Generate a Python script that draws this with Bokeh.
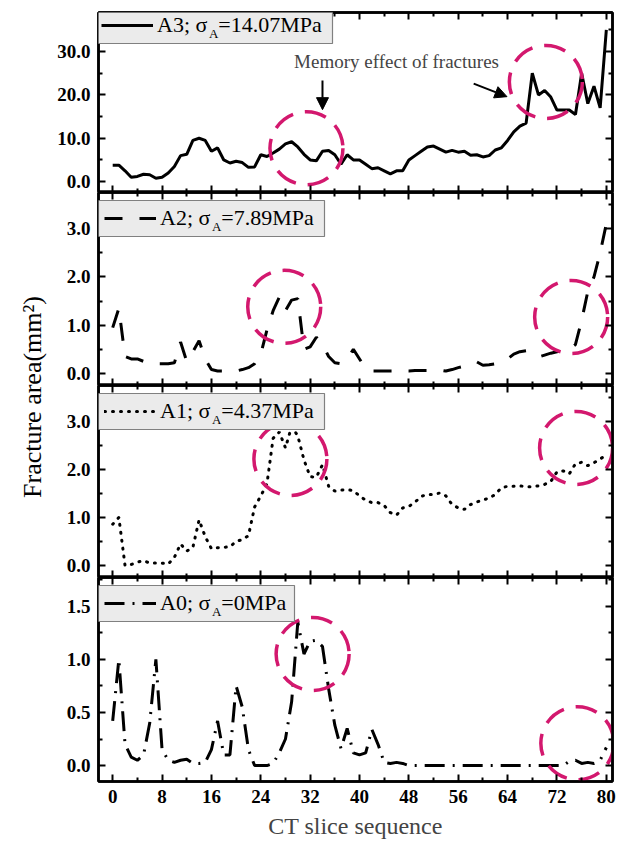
from bokeh.plotting import figure
from bokeh.layouts import column, row
from bokeh.models import (Range1d, LinearAxis, FixedTicker, PrintfTickFormatter,
                          Legend, LegendItem, Label, Arrow, NormalHead, BoxAnnotation)
from bokeh.embed import file_html
from bokeh.resources import INLINE

# ---------------- data ----------------
slices = list(range(81))

a3 = [3.8, 3.8, 2.5, 1.0, 1.2, 1.7, 1.6, 0.8, 1.0, 2.0,
      3.5, 6.0, 6.3, 9.5, 10.0, 9.5, 7.0, 7.8, 5.0, 4.3,
      4.7, 4.4, 3.3, 3.4, 6.2, 5.8, 6.6, 7.5, 8.7, 9.2,
      8.0, 6.3, 5.0, 4.8, 7.0, 7.2, 6.2, 4.0, 6.2, 5.0,
      5.0, 4.0, 3.0, 3.2, 2.5, 1.8, 2.5, 2.5, 5.0, 6.0,
      7.0, 8.0, 8.2, 7.5, 6.8, 7.2, 6.8, 7.0, 6.1, 6.2,
      5.7, 6.0, 7.3, 7.8, 9.5, 11.5, 12.8, 13.5, 25.0, 20.0,
      21.0, 19.5, 16.5, 16.5, 16.5, 15.5, 25.0, 18.0, 22.0, 17.0,
      35.0]

a2 = [0.95, 1.35, 0.35, 0.30, 0.30, 0.25, 0.20, 0.20, 0.20, 0.20,
      0.22, 0.65, 0.25, 0.45, 0.68, 0.30, 0.08, 0.05, 0.05, 0.05,
      0.05, 0.08, 0.12, 0.20, 0.40, 0.90, 1.30, 1.58, 1.30, 1.52,
      1.55, 0.50, 0.55, 0.75, 0.60, 0.35, 0.22, 0.20, 0.30, 0.50,
      0.30, 0.10, 0.05, 0.05, 0.05, 0.05, 0.05, 0.05, 0.05, 0.06,
      0.06, 0.06, 0.06, 0.07, 0.05, 0.08, 0.12, 0.15, 0.20, 0.24,
      0.17, 0.18, 0.20, 0.25, 0.30, 0.40, 0.45, 0.47, 0.40, 0.34,
      0.38, 0.42, 0.45, 0.48, 0.50, 0.60, 1.10, 1.70, 2.00, 2.50,
      3.10]

a1 = [0.86, 1.00, 0.00, 0.02, 0.07, 0.10, 0.05, 0.05, 0.05, 0.03,
      0.17, 0.45, 0.30, 0.38, 0.95, 0.60, 0.35, 0.37, 0.38, 0.39,
      0.50, 0.54, 0.62, 1.22, 1.45, 1.70, 2.65, 2.78, 2.45, 2.90,
      2.70, 2.20, 1.85, 1.84, 2.10, 1.65, 1.55, 1.57, 1.58, 1.56,
      1.45, 1.36, 1.31, 1.31, 1.25, 1.10, 1.05, 1.20, 1.23, 1.32,
      1.44, 1.48, 1.48, 1.51, 1.45, 1.27, 1.20, 1.17, 1.27, 1.32,
      1.37, 1.40, 1.48, 1.62, 1.65, 1.65, 1.66, 1.64, 1.64, 1.66,
      1.69, 1.75, 1.95, 1.97, 1.91, 2.12, 2.15, 2.08, 2.14, 2.22,
      2.30]

a0 = [0.42, 1.00, 0.20, 0.08, 0.05, 0.10, 0.40, 1.00, 0.15, 0.05,
      0.03, 0.05, 0.06, 0.02, 0.02, 0.03, 0.15, 0.42, 0.10, 0.10,
      0.75, 0.55, 0.15, 0.00, 0.00, 0.00, 0.02, 0.12, 0.25, 0.60,
      1.35, 1.05, 1.17, 1.18, 1.12, 0.72, 0.38, 0.16, 0.35, 0.12,
      0.10, 0.12, 0.34, 0.20, 0.03, 0.02, 0.03, 0.02, 0.00, 0.00,
      0.00, 0.00, 0.00, 0.00, 0.00, 0.00, 0.00, 0.00, 0.00, 0.00,
      0.00, 0.00, 0.00, 0.00, 0.00, 0.00, 0.00, 0.00, 0.00, 0.00,
      0.00, 0.00, 0.00, 0.00, 0.04, 0.05, 0.02, 0.03, 0.02, 0.05,
      0.17]

series_names = ["A3", "A2", "A1", "A0"]
stress_labels = ["14.07MPa", "7.89MPa", "4.37MPa", "0MPa"]
series_values = [a3, a2, a1, a0]
series_dash = ["solid", "18 17", "1 7", "20 8 2 8"]

x_ticks = [0, 8, 16, 24, 32, 40, 48, 56, 64, 72, 80]
x_minor = [4, 12, 20, 28, 36, 44, 52, 60, 68, 76]
y_ticks = [[0, 10, 20, 30], [0, 1, 2, 3], [0, 1, 2, 3], [0, 0.5, 1.0, 1.5]]
y_minor = [[5, 15, 25, 35], [0.5, 1.5, 2.5, 3.5], [0.5, 1.5, 2.5, 3.5], [0.25, 0.75, 1.25, 1.75]]
y_ranges = [(-2.5, 39.0), (-0.25, 3.75), (-0.25, 3.75), (-0.15, 1.77)]

# highlighted "memory effect" regions (circle centres in data units)
circle_x = [[31.4, 70.2], [27.8, 74.3], [28.8, 75.1], [32.4, 75.3]]
circle_y = [[7.7, 23.0], [1.38, 1.17], [2.22, 2.45], [1.05, 0.21]]

note_text = "Memory effect of fractures"
note_pos = (46.0, 27.6)
arrow_coords = [(34.0, 23.3, 34.0, 16.6), (58.5, 22.6, 63.9, 19.6)]

x_title = "CT slice sequence"
y_title = "Fracture area(mm\u00b2)"

# ---------------- layout ----------------
SERIF = "Liberation Serif"
MAGENTA = "#d3186e"
YLAB_W = 48
FIG_W = 584
LEFT_B = 50
RIGHT_B = 20
frame_h = [180, 193, 192, 204]
top_b = [12, 0, 0, 0]
bot_b = [0, 0, 0, 64]
legend_top_gap = [-5, 8, 8, 8]
legend_x = [-3, 0, 0, 0]
legend_w = [237, 226, 226, 196]
LEG_H = 36
PAD = 6
X0, X1 = -2.3, 81.0
FRAME_W = FIG_W - LEFT_B - RIGHT_B

xr = Range1d(X0, X1)


def style_axis(ax, show_labels):
    ax.axis_line_width = 2.5
    ax.axis_line_color = "black"
    ax.major_tick_in = 7
    ax.major_tick_out = 0
    ax.minor_tick_in = 4
    ax.minor_tick_out = 0
    ax.major_tick_line_width = 2
    ax.minor_tick_line_width = 2
    if show_labels:
        ax.major_label_text_font = SERIF
        ax.major_label_text_font_style = "bold"
        ax.major_label_text_font_size = "19px"
        ax.major_label_text_color = "black"
    else:
        ax.major_label_text_color = None
        ax.major_label_text_font_size = "1px"
        ax.major_label_standoff = 0


panels = []
for i in range(4):
    h = frame_h[i] + top_b[i] + bot_b[i]
    y0, y1 = y_ranges[i]
    kx = (X1 - X0) / FRAME_W          # data units per screen pixel (x)
    ky = (y1 - y0) / frame_h[i]       # data units per screen pixel (y)
    p = figure(width=FIG_W, height=h, x_range=xr, y_range=Range1d(y0, y1),
               output_backend="svg", toolbar_location=None,
               x_axis_location=None, y_axis_location=None,
               min_border_left=LEFT_B, min_border_right=RIGHT_B,
               min_border_top=top_b[i], min_border_bottom=bot_b[i])
    p.grid.visible = False
    p.outline_line_color = "black"
    p.outline_line_width = 2.5
    p.background_fill_color = "white"
    p.border_fill_color = "white"

    xt = FixedTicker(ticks=x_ticks, minor_ticks=x_minor)
    yt = FixedTicker(ticks=y_ticks[i], minor_ticks=y_minor[i])

    left = LinearAxis(ticker=yt, formatter=PrintfTickFormatter(format="%.1f"))
    style_axis(left, True)
    left.major_label_standoff = 8
    p.add_layout(left, "left")

    right = LinearAxis(ticker=yt)
    style_axis(right, False)
    p.add_layout(right, "right")

    top = LinearAxis(ticker=xt)
    style_axis(top, False)
    p.add_layout(top, "above")

    bottom = LinearAxis(ticker=xt)
    if i == 3:
        style_axis(bottom, True)
        bottom.major_label_standoff = 8
        bottom.axis_label = x_title
        bottom.axis_label_text_font = SERIF
        bottom.axis_label_text_font_style = "normal"
        bottom.axis_label_text_font_size = "24px"
        bottom.axis_label_standoff = 7
    else:
        style_axis(bottom, False)
    p.add_layout(bottom, "below")

    # data line
    r = p.line(slices, series_values[i], line_color="black", line_width=3,
               line_dash=series_dash[i], line_cap="round" if i == 2 else "butt")

    # highlight circles
    p.scatter(circle_x[i], circle_y[i], marker="circle", size=73,
              fill_alpha=0, line_color=MAGENTA, line_width=3.5, line_dash="22 12")

    # legend frame (grey box) drawn as a box annotation
    ly = frame_h[i] - legend_top_gap[i] - LEG_H
    lx = legend_x[i]
    p.add_layout(BoxAnnotation(left=X0 + lx * kx, right=X0 + (lx + legend_w[i]) * kx,
                               bottom=y0 + ly * ky, top=y0 + (ly + LEG_H) * ky,
                               fill_color="#ebebeb", fill_alpha=1.0,
                               line_color="#808080", line_width=1.2, line_alpha=1.0))

    # transparent legend on top (sample + label with a gap for the subscript)
    lab = "%s; \u03c3\u00a0\u00a0=%s" % (series_names[i], stress_labels[i])
    leg = Legend(items=[LegendItem(label=lab, renderers=[r])],
                 location=(lx + PAD, ly + PAD - 1),
                 label_text_font=SERIF, label_text_font_size="22px",
                 label_text_color="black",
                 glyph_width=52, glyph_height=20, label_height=20,
                 label_standoff=4, padding=PAD, margin=0, spacing=0,
                 background_fill_alpha=0.0, border_line_color=None)
    p.add_layout(leg)

    # subscript "A" of sigma, in the gap of the legend label
    sx = lx + PAD + 52 + 4 + 51.5
    sy = ly + LEG_H / 2 - 8
    p.add_layout(Label(x=X0 + sx * kx, y=y0 + sy * ky,
                       text="A", text_font=SERIF, text_font_size="13px",
                       text_color="black", text_align="left", text_baseline="middle"))

    if i == 0:
        p.add_layout(Label(x=note_pos[0], y=note_pos[1], text=note_text,
                           text_font=SERIF, text_font_size="19px",
                           text_align="center", text_baseline="middle"))
        for (xa, ya, xb, yb) in arrow_coords:
            p.add_layout(Arrow(end=NormalHead(size=12, fill_color="black",
                                              line_color="black", line_width=1),
                               x_start=xa, y_start=ya, x_end=xb, y_end=yb,
                               line_width=2, line_color="black"))
    panels.append(p)

total_h = sum(frame_h) + sum(top_b) + sum(bot_b)

# narrow figure carrying the shared y-axis title
ylab = figure(width=YLAB_W, height=total_h, output_backend="svg", toolbar_location=None,
              x_axis_location=None, y_axis_location=None,
              min_border_left=46, min_border_right=0,
              min_border_top=top_b[0], min_border_bottom=bot_b[3],
              x_range=Range1d(0, 1), y_range=Range1d(0, 1))
ylab.grid.visible = False
ylab.outline_line_color = None
yax = LinearAxis(ticker=FixedTicker(ticks=[]), axis_label=y_title)
yax.axis_line_color = None
yax.major_tick_line_color = None
yax.minor_tick_line_color = None
yax.major_label_text_color = None
yax.major_label_text_font_size = "1px"
yax.major_label_standoff = 0
yax.axis_label_standoff = 0
yax.axis_label_text_font = SERIF
yax.axis_label_text_font_style = "normal"
yax.axis_label_text_font_size = "26px"
yax.axis_label_text_color = "black"
ylab.add_layout(yax, "left")

layout = row(ylab, column(*panels, spacing=0), spacing=0)
open("out.html", "w").write(file_html(layout, INLINE))
